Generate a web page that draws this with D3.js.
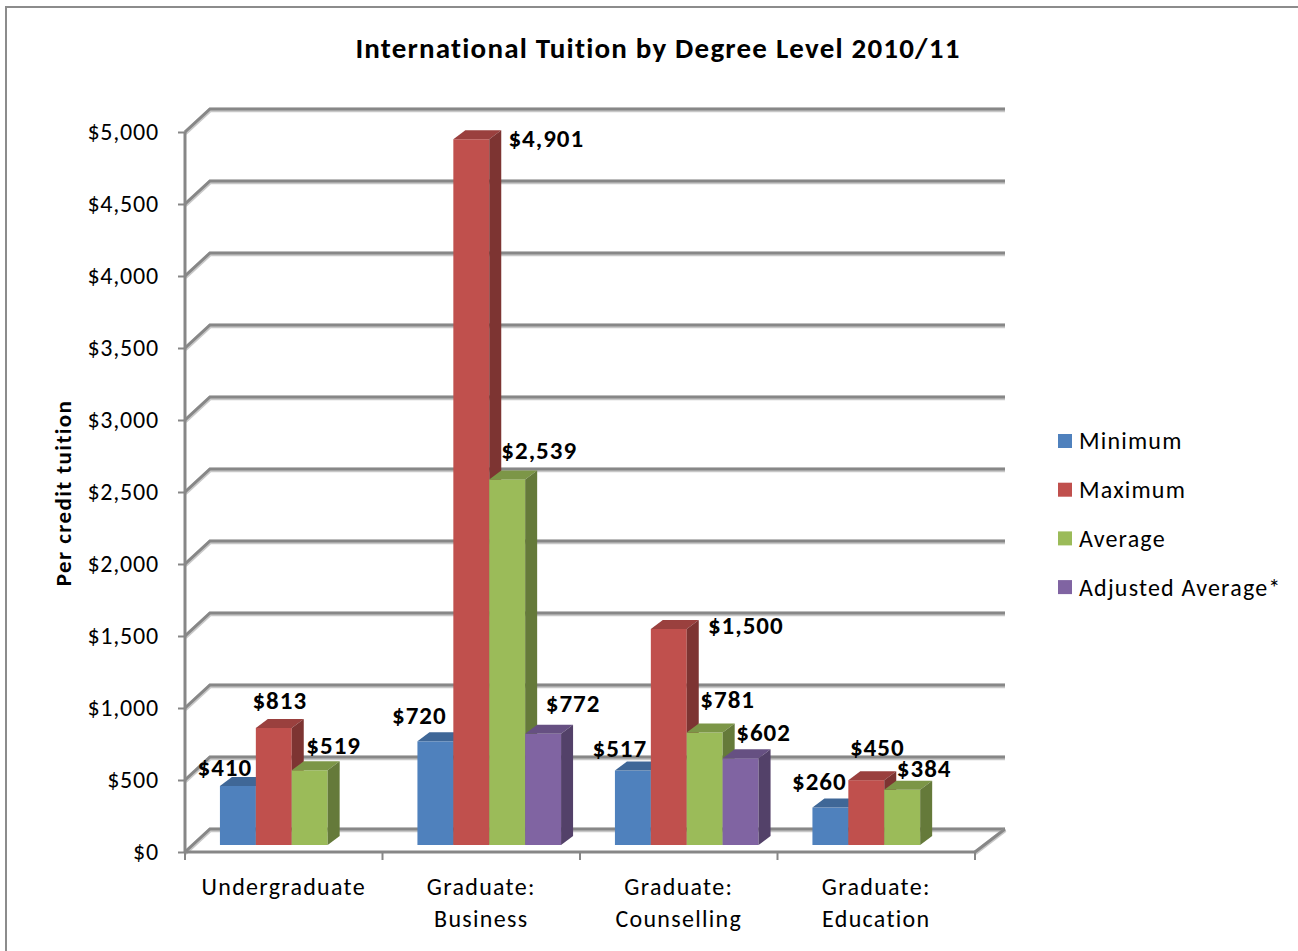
<!DOCTYPE html>
<html><head><meta charset="utf-8">
<script src="https://cdn.jsdelivr.net/npm/d3@7"></script>
<style>body{margin:0;background:#fff}svg{display:block}</style>
</head><body>
<svg id="c" width="1298" height="951"></svg>
<script>
const categories = [["Undergraduate"], ["Graduate:", "Business"], ["Graduate:", "Counselling"], ["Graduate:", "Education"]];
const seriesNames = ["Minimum", "Maximum", "Average", "Adjusted Average*"];
const minimum  = [410, 720, 517, 260];
const maximum  = [813, 4901, 1500, 450];
const average  = [519, 2539, 781, 384];
const adjusted = [null, 772, 602, null];
const yTicks = [0, 500, 1000, 1500, 2000, 2500, 3000, 3500, 4000, 4500, 5000];
const colors = ["#4F81BD", "#C0504D", "#9BBB59", "#8064A2"];
const seriesValues = [minimum, maximum, average, adjusted];

// label nudges relative to bar top-front centre (layout only)
const labelNudge = [
  [[-13,-19],[-16,-26],[-13,-22],[-11,-26]],
  [[6,-28],[75,-1],[77,-4],[11,-33]],
  [[24,-25],[32,-29],[23,-33],[22,-21]],
  [[0,0],[30,-31],[23,-26],[0,0]]
];

const FONT = "Carlito, Calibri, Lato, sans-serif";
const svg = d3.select("#c");

// border
svg.append("path").attr("d","M6,951V7H1298").attr("fill","none").attr("stroke","#8c8c8c").attr("stroke-width",2);

// geometry
const fx0 = 185, fx1 = 975, fy0 = 852;
const wdx = 25, wdy = -23;            // wall depth
const bpx = 8, bpy = -7;              // bar front plane offset
const bdx = 12, bdy = -9;             // bar depth
const y = d3.scaleLinear().domain([0,5000]).range([fy0, 132]);
const x = d3.scaleBand().domain(d3.range(categories.length)).range([fx0, fx1]);
const xs = d3.scaleBand().domain(d3.range(seriesNames.length)).range([0, x.bandwidth()]).paddingInner(0).paddingOuter(0.75);

// gridlines (side diagonal + back wall)
const g = svg.append("g");
yTicks.forEach(v => {
  const yf = y(v), yb = y(v) + wdy;
  const d = `M${fx0},${yf}L${fx0+wdx},${yb}L${fx1+wdx+5},${yb}`;
  g.append("path").attr("d", d).attr("fill","none").attr("stroke","#c8c8c8").attr("stroke-width",4.5).attr("transform","translate(0,1)");
  g.append("path").attr("d", d).attr("fill","none").attr("stroke","#878787").attr("stroke-width",3);
});
// floor right edge
g.append("path").attr("d",`M${fx1},${fy0}L${fx1+wdx+5},${fy0+wdy}`).attr("fill","none").attr("stroke","#c8c8c8").attr("stroke-width",4.5).attr("transform","translate(0,1)");
g.append("path").attr("d",`M${fx1},${fy0}L${fx1+wdx+5},${fy0+wdy}`).attr("fill","none").attr("stroke","#878787").attr("stroke-width",3);

// axes
const axY = svg.append("g").attr("transform",`translate(${fx0},0)`)
  .call(d3.axisLeft(y).tickValues(yTicks).tickSize(7).tickFormat(v => "$" + d3.format(",")(v)));
axY.select(".domain").attr("stroke","#878787").attr("stroke-width",3).attr("d",`M0,${y(5000)}V${fy0}`);
axY.selectAll(".tick line").attr("stroke","#878787").attr("stroke-width",2);
axY.selectAll(".tick text").attr("font-family",FONT).attr("font-size",24).attr("letter-spacing","0.8px").attr("fill","#000").attr("x",-26);

const axX = svg.append("g").attr("transform",`translate(0,${fy0})`);
axX.append("path").attr("d",`M${fx0},0H${fx1}`).attr("stroke","#878787").attr("stroke-width",3);
d3.range(categories.length+1).forEach(i => {
  const xx = i < categories.length ? x(i) : fx1;
  axX.append("line").attr("x1",xx).attr("x2",xx).attr("y1",0).attr("y2",8).attr("stroke","#878787").attr("stroke-width",2);
});
categories.forEach((lines, i) => {
  const t = axX.append("text").attr("text-anchor","middle").attr("font-family",FONT).attr("font-size",24).attr("letter-spacing","1.3px").attr("fill","#000");
  lines.forEach((ln, j) => t.append("tspan").attr("x", x(i) + x.bandwidth()/2).attr("y", 43 + j*32).text(ln));
});

// bars
const bars = svg.append("g");
categories.forEach((c, ci) => {
  seriesValues.forEach((vals, si) => {
    const v = vals[ci];
    if (v == null) return;
    const x0 = x(ci) + xs(si) + bpx, x1 = x0 + xs.bandwidth();
    const yb = y(0) + bpy, yt = y(v) + bpy;
    const col = d3.color(colors[si]);
    const sideCol = d3.interpolateRgb(colors[si], "#000")(0.35);
    const topCol = d3.interpolateRgb(colors[si], "#000")(0.2);
    bars.append("rect").attr("x",x0).attr("y",yt).attr("width",x1-x0).attr("height",yb-yt).attr("fill",col);
    bars.append("path").attr("d",`M${x0},${yt}L${x0+bdx},${yt+bdy}L${x1+bdx},${yt+bdy}L${x1},${yt}Z`).attr("fill",topCol);
    bars.append("path").attr("d",`M${x1},${yt}L${x1+bdx},${yt+bdy}L${x1+bdx},${yb+bdy}L${x1},${yb}Z`).attr("fill",sideCol);
  });
});

// labels
const labels = svg.append("g");
categories.forEach((c, ci) => {
  seriesValues.forEach((vals, si) => {
    const v = vals[ci];
    if (v == null) return;
    const cx = x(ci) + xs(si) + bpx + xs.bandwidth()/2;
    const ty = y(v) + bpy;
    const n = labelNudge[si][ci];
    labels.append("text").attr("x", cx + n[0]).attr("y", ty + n[1]).attr("dy","0.35em")
      .attr("text-anchor","middle").attr("font-family",FONT).attr("font-weight","bold").attr("font-size",25).attr("letter-spacing","1px")
      .attr("fill","#000").text("$" + d3.format(",")(v));
  });
});

// title
svg.append("text").attr("x",658).attr("y",58).attr("text-anchor","middle").attr("font-family",FONT)
  .attr("font-weight","bold").attr("font-size",29).attr("letter-spacing","1.2px").attr("fill","#000").text("International Tuition by Degree Level 2010/11");

// y axis title
svg.append("text").attr("transform","translate(71,493) rotate(-90)").attr("text-anchor","middle").attr("font-family",FONT)
  .attr("font-weight","bold").attr("font-size",23).attr("letter-spacing","1.4px").attr("fill","#000").text("Per credit tuition");

// legend
const leg = svg.append("g");
seriesNames.forEach((s, i) => {
  const yy = 441 + i*48.7;
  leg.append("rect").attr("x",1058).attr("y",yy-7).attr("width",14).attr("height",14).attr("fill",colors[i]);
  leg.append("text").attr("x",1079).attr("y",yy).attr("dy","0.35em").attr("font-family",FONT).attr("font-size",24).attr("letter-spacing","1.2px").attr("fill","#000").text(s);
});
</script>
</body></html>
